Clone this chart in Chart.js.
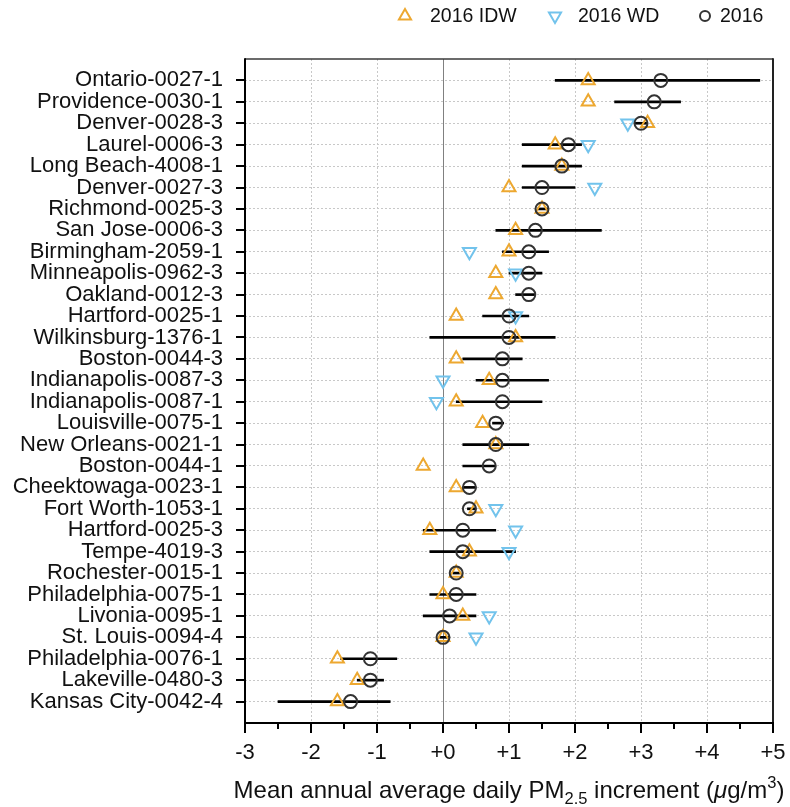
<!DOCTYPE html>
<html>
<head>
<meta charset="utf-8">
<script src="https://cdn.jsdelivr.net/npm/chart.js@4.4.1/dist/chart.umd.min.js"></script>
<style>
  html, body { margin: 0; padding: 0; background: #ffffff; }
  #wrap { position: relative; width: 790px; height: 807px; }
</style>
</head>
<body>
<div id="wrap"><canvas id="c" width="790" height="807"></canvas></div>
<script>
// ---- data (top row first) ----
const categories = ["Ontario-0027-1","Providence-0030-1","Denver-0028-3","Laurel-0006-3","Long Beach-4008-1","Denver-0027-3","Richmond-0025-3","San Jose-0006-3","Birmingham-2059-1","Minneapolis-0962-3","Oakland-0012-3","Hartford-0025-1","Wilkinsburg-1376-1","Boston-0044-3","Indianapolis-0087-3","Indianapolis-0087-1","Louisville-0075-1","New Orleans-0021-1","Boston-0044-1","Cheektowaga-0023-1","Fort Worth-1053-1","Hartford-0025-3","Tempe-4019-3","Rochester-0015-1","Philadelphia-0075-1","Livonia-0095-1","St. Louis-0094-4","Philadelphia-0076-1","Lakeville-0480-3","Kansas City-0042-4"];
const mean2016 = [3.3, 3.2, 3.0, 1.9, 1.8, 1.5, 1.5, 1.4, 1.3, 1.3, 1.3, 1.0, 1.0, 0.9, 0.9, 0.9, 0.8, 0.8, 0.7, 0.4, 0.4, 0.3, 0.3, 0.2, 0.2, 0.1, 0.0, -1.1, -1.1, -1.4];
const low2016 = [1.7, 2.6, 2.9, 1.2, 1.2, 1.2, 1.43, 0.8, 0.9, 1.0, 1.1, 0.6, -0.2, 0.3, 0.5, 0.2, 0.75, 0.3, 0.3, 0.3, 0.37, -0.3, -0.2, 0.15, -0.2, -0.3, -0.05, -1.55, -1.3, -2.5];
const high2016 = [4.8, 3.6, 3.1, 2.1, 2.1, 2.0, 1.6, 2.4, 1.6, 1.5, 1.4, 1.3, 1.7, 1.2, 1.6, 1.5, 0.92, 1.3, 0.8, 0.5, 0.5, 0.8, 1.1, 0.25, 0.5, 0.5, 0.1, -0.7, -0.9, -0.8];
const idw2016 = [2.2, 2.2, 3.1, 1.7, 1.8, 1.0, 1.5, 1.1, 1.0, 0.8, 0.8, 0.2, 1.1, 0.2, 0.7, 0.2, 0.6, 0.8, -0.3, 0.2, 0.5, -0.2, 0.4, 0.2, 0.0, 0.3, 0.0, -1.6, -1.3, -1.6];
const wd2016 = [null, null, 2.8, 2.2, null, 2.3, null, null, 0.4, 1.1, null, 1.1, null, null, 0.0, -0.1, null, null, null, null, 0.8, 1.1, 1.0, null, null, 0.7, 0.5, null, null, null];
const xTickValues = [-3, -2, -1, 0, 1, 2, 3, 4, 5];
const seriesLabels = ["2016 IDW", "2016 WD", "2016"];

const FONT = "'Liberation Sans', Arial, Helvetica, sans-serif";
const ORANGE = '#eda830';
const BLUE = '#72c3ec';
const DARK = '#333333';

Chart.defaults.font.family = FONT;

function pts(arr) {
  return arr.map((v, i) => v === null ? null : { x: v, y: i }).filter(p => p !== null);
}

function markerPath(ctx, style, x, y, r) {
  ctx.beginPath();
  if (style === 'circle') {
    ctx.arc(x, y, r, 0, Math.PI * 2);
  } else {
    const s = style === 'down' ? -1 : 1;
    for (let k = 0; k < 3; k++) {
      const a = k * 2 * Math.PI / 3;
      const px = x + Math.sin(a) * r;
      const py = y - s * Math.cos(a) * r;
      if (k === 0) ctx.moveTo(px, py); else ctx.lineTo(px, py);
    }
    ctx.closePath();
  }
}

const decor = {
  id: 'decor',
  beforeDatasetsDraw(chart) {
    const { ctx, chartArea: a, scales: { x } } = chart;
    const zx = x.getPixelForValue(0);
    ctx.save();
    ctx.strokeStyle = '#808080';
    ctx.lineWidth = 1;
    ctx.beginPath();
    ctx.moveTo(Math.round(zx) + 0.5, a.top);
    ctx.lineTo(Math.round(zx) + 0.5, a.bottom);
    ctx.stroke();
    ctx.restore();
  },
  afterDraw(chart) {
    const { ctx, chartArea: a, scales: { x, y } } = chart;
    ctx.save();
    // frame
    ctx.lineCap = 'butt';
    ctx.strokeStyle = '#3a3a3a';
    ctx.lineWidth = 1.5;
    ctx.beginPath(); ctx.moveTo(a.left, a.top); ctx.lineTo(a.right, a.top); ctx.stroke();
    ctx.strokeStyle = '#222';
    ctx.lineWidth = 2;
    ctx.beginPath(); ctx.moveTo(a.right, a.top - 0.75); ctx.lineTo(a.right, a.bottom); ctx.stroke();
    ctx.strokeStyle = '#000';
    ctx.lineWidth = 2;
    ctx.beginPath(); ctx.moveTo(a.left, a.top - 0.75); ctx.lineTo(a.left, a.bottom + 1); ctx.stroke();
    ctx.beginPath(); ctx.moveTo(a.left - 1, a.bottom); ctx.lineTo(a.right + 1, a.bottom); ctx.stroke();
    // y ticks
    categories.forEach((c, i) => {
      const py = Math.round(y.getPixelForValue(i));
      ctx.beginPath(); ctx.moveTo(a.left - 9, py); ctx.lineTo(a.left, py); ctx.stroke();
    });
    // x ticks: major + minor
    for (let v = xTickValues[0]; v <= xTickValues[xTickValues.length - 1] + 1e-9; v += 0.5) {
      const px = x.getPixelForValue(v);
      const major = Math.abs(v - Math.round(v)) < 1e-9;
      ctx.beginPath(); ctx.moveTo(px, a.bottom); ctx.lineTo(px, a.bottom + (major ? 10 : 6)); ctx.stroke();
    }
    // legend
    const styles = [['up', ORANGE, 7], ['down', BLUE, 7], ['circle', DARK, 5]];
    const mx = [405, 555, 705];
    const tx = [430, 578, 720];
    const ly = 16;
    ctx.font = '19.5px ' + FONT;
    ctx.textBaseline = 'middle';
    ctx.textAlign = 'left';
    styles.forEach((s, k) => {
      ctx.strokeStyle = s[1];
      ctx.lineWidth = 2;
      markerPath(ctx, s[0], mx[k], ly, s[2]);
      ctx.stroke();
      ctx.fillStyle = '#111';
      ctx.fillText(seriesLabels[k], tx[k], ly + 1);
    });
    // x-axis title with sub/superscripts
    const big = 24, small = 16.5;
    const parts = [
      { t: 'Mean annual average daily PM', f: big + 'px ' + FONT, dy: 0 },
      { t: '2.5', f: small + 'px ' + FONT, dy: 6 },
      { t: ' increment (', f: big + 'px ' + FONT, dy: 0 },
      { t: '\u03bc', f: 'italic ' + big + 'px ' + FONT, dy: 0 },
      { t: 'g/m', f: big + 'px ' + FONT, dy: 0 },
      { t: '3', f: small + 'px ' + FONT, dy: -10 },
      { t: ')', f: big + 'px ' + FONT, dy: 0 }
    ];
    let total = 0;
    parts.forEach(p => { ctx.font = p.f; p.w = ctx.measureText(p.t).width; total += p.w; });
    let cx = (a.left + a.right) / 2 - total / 2;
    const base = 798;
    ctx.fillStyle = '#111';
    ctx.textBaseline = 'alphabetic';
    parts.forEach(p => { ctx.font = p.f; ctx.fillText(p.t, cx, base + p.dy); cx += p.w; });
    ctx.restore();
  }
};

new Chart(document.getElementById('c'), {
  type: 'scatter',
  data: {
    datasets: [
      {
        type: 'bar',
        label: 'range',
        indexAxis: 'y',
        data: categories.map((c, i) => ({ y: i, x: [low2016[i], high2016[i]] })),
        backgroundColor: '#000000',
        borderWidth: 0,
        barThickness: 2,
        order: 4
      },
      {
        label: seriesLabels[0],
        data: pts(idw2016),
        pointStyle: 'triangle',
        pointRadius: 7.5,
        pointBorderWidth: 2,
        pointBorderColor: ORANGE,
        pointBackgroundColor: 'rgba(0,0,0,0)',
        order: 3
      },
      {
        label: seriesLabels[1],
        data: pts(wd2016),
        pointStyle: 'triangle',
        pointRotation: 180,
        pointRadius: 7.5,
        pointBorderWidth: 2,
        pointBorderColor: BLUE,
        pointBackgroundColor: 'rgba(0,0,0,0)',
        order: 2
      },
      {
        label: seriesLabels[2],
        data: pts(mean2016),
        pointStyle: 'circle',
        pointRadius: 6.5,
        pointBorderWidth: 2,
        pointBorderColor: DARK,
        pointBackgroundColor: 'rgba(0,0,0,0)',
        order: 1
      }
    ]
  },
  options: {
    responsive: false,
    animation: false,
    events: [],
    layout: { padding: { top: 59, right: 17, left: 0, bottom: 0 } },
    plugins: { legend: { display: false }, tooltip: { enabled: false } },
    scales: {
      x: {
        type: 'linear',
        min: -3, max: 5,
        offset: false,
        afterBuildTicks: s => { s.ticks = xTickValues.map(v => ({ value: v })); },
        ticks: {
          callback: v => (v >= 0 ? '+' : '') + v,
          font: { size: 22 }, color: '#111', padding: 17, maxRotation: 0, autoSkip: false
        },
        grid: { drawTicks: false, offset: false, color: '#c8c8c8', lineWidth: 1 },
        border: { display: false, dash: [2, 2] },
        afterFit: s => { s.height = 84; s.paddingLeft = 0; s.paddingRight = 0; s.paddingTop = 0; s.paddingBottom = 0; }
      },
      y: {
        type: 'linear',
        min: -1, max: 30,
        reverse: true,
        offset: false,
        afterBuildTicks: s => { s.ticks = categories.map((c, i) => ({ value: i })); },
        ticks: {
          callback: v => categories[v],
          font: { size: 22 }, color: '#111', padding: 22, autoSkip: false
        },
        grid: { drawTicks: false, offset: false, color: '#c8c8c8', lineWidth: 1 },
        border: { display: false, dash: [2, 2] },
        afterFit: s => { s.width = 245; s.paddingLeft = 0; s.paddingRight = 0; s.paddingTop = 0; s.paddingBottom = 0; }
      }
    }
  },
  plugins: [decor]
});
</script>
</body>
</html>
